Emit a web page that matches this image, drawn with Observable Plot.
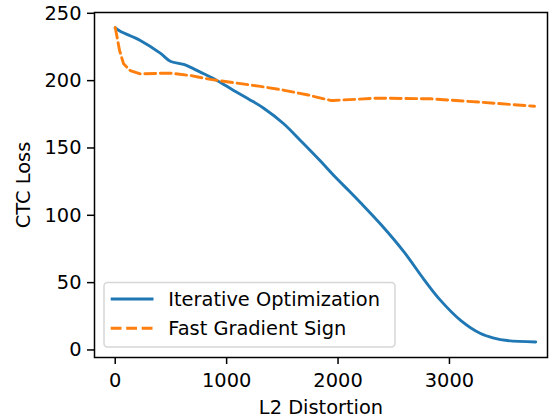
<!DOCTYPE html>
<html>
<head>
<meta charset="utf-8">
<script src="https://cdn.jsdelivr.net/npm/d3@7"></script>
<script src="https://cdn.jsdelivr.net/npm/@observablehq/plot@0.6"></script>
<style>
  html, body { margin: 0; padding: 0; background: #fff; }
  #wrap { position: relative; width: 558px; height: 420px; font-family: "DejaVu Sans", sans-serif; }
  #wrap svg { display: block; }
  #legend { position: absolute; left: 0; top: 0; pointer-events: none; }
</style>
</head>
<body>
<div id="wrap"></div>
<script>
// Iterative Optimization (L2 distortion, CTC loss)
const iterX = [0, 45, 225, 404, 494, 614, 764, 898, 1063, 1200, 1333, 1512, 1662, 1722, 1840, 1962, 2100, 2200, 2381, 2590, 2770, 2920, 3100, 3279, 3400, 3519, 3774];
const iterY = [239.2, 236.7, 229.8, 220.4, 214.4, 212, 206.3, 200.9, 192.7, 186.2, 179.5, 168, 155.6, 150.6, 140.5, 129.5, 118, 109.5, 93.5, 73, 52.5, 36.8, 22, 12.2, 8.8, 7.0, 5.9];
// Fast Gradient Sign
const fgsX = [0, 39, 75, 135, 225, 464, 500, 674, 854, 1303, 1482, 1722, 1932, 1962, 2351, 2830, 3279, 3764];
const fgsY = [239.5, 222.4, 212.5, 207.5, 205, 205.6, 205.5, 203.8, 200.9, 195.7, 193.4, 189.5, 185.3, 185.3, 187, 186.5, 184, 181];
const seriesNames = ["Iterative Optimization", "Fast Gradient Sign"];
const xTicks = [0, 1000, 2000, 3000];
const yTicks = [0, 50, 100, 150, 200, 250];

const iter = iterX.map((x, i) => ({x, y: iterY[i]}));
const fgs = fgsX.map((x, i) => ({x, y: fgsY[i]}));

const FS = 19.4;
const blue = "#1f77b4", orange = "#ff7f0e";

const chart = Plot.plot({
  width: 558,
  height: 420,
  marginLeft: 94,
  marginRight: 11,
  marginTop: 12,
  marginBottom: 63,
  style: {fontFamily: "DejaVu Sans", fontSize: FS + "px", color: "#000", background: "#fff"},
  x: {domain: [-186, 3880]},
  y: {domain: [-5.6, 250.6]},
  marks: [
    Plot.line(iter, {x: "x", y: "y", stroke: blue, strokeWidth: 2.9, curve: "catmull-rom"}),
    Plot.line(fgs, {x: "x", y: "y", stroke: orange, strokeWidth: 2.9, strokeDasharray: "10.8,4.7", curve: "linear"}),
    Plot.frame({stroke: "#000", strokeWidth: 1.5}),
    Plot.axisX({ticks: xTicks, tickSize: 7, tickPadding: 9, tickFormat: d => String(d), label: null, fontSize: FS, strokeWidth: 1.5, stroke: "#000"}),
    Plot.axisY({ticks: yTicks, tickSize: 7, tickPadding: 6, tickFormat: d => String(d), label: null, fontSize: FS, strokeWidth: 1.5, stroke: "#000"}),
    Plot.text(["L2 Distortion"], {frameAnchor: "bottom", text: d => d, dy: 50, lineAnchor: "middle", textAnchor: "middle", fontSize: FS, fill: "#000"}),
    Plot.text(["CTC Loss"], {frameAnchor: "left", text: d => d, rotate: -90, dx: -71, lineAnchor: "middle", textAnchor: "middle", fontSize: FS, fill: "#000"})
  ]
});
const wrap = document.getElementById("wrap");
wrap.appendChild(chart);

// Legend overlay
const lg = d3.select(wrap).append("svg").attr("id", "legend").attr("width", 558).attr("height", 420);
lg.append("rect").attr("x", 104).attr("y", 282.5).attr("width", 291).attr("height", 64.5)
  .attr("rx", 3.5).attr("fill", "rgba(255,255,255,0.8)").attr("stroke", "#d6d6d6").attr("stroke-width", 1.5);
const rows = [
  {name: seriesNames[0], color: blue, dash: null, y: 299},
  {name: seriesNames[1], color: orange, dash: "10.8,4.7", y: 328.3}
];
rows.forEach(r => {
  const l = lg.append("line").attr("x1", 110.7).attr("x2", 153.5).attr("y1", r.y).attr("y2", r.y)
    .attr("stroke", r.color).attr("stroke-width", 2.9);
  if (r.dash) l.attr("stroke-dasharray", r.dash);
  lg.append("text").attr("x", 168.3).attr("y", r.y).attr("dy", "0.36em")
    .attr("font-family", "DejaVu Sans").attr("font-size", FS).attr("fill", "#000").text(r.name);
});
</script>
</body>
</html>
